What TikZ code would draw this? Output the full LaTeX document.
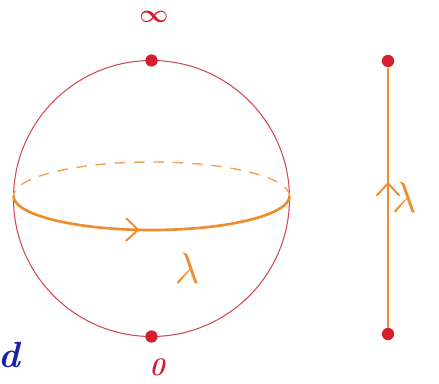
\documentclass[tikz,border=0pt]{standalone}
\usepackage{tikz}
\usetikzlibrary{arrows.meta, positioning, decorations.markings}

\definecolor{ringred}{RGB}{205,75,80}
\definecolor{dotred}{RGB}{215,30,45}
\definecolor{loopor}{RGB}{240,140,45}
\definecolor{inkblue}{RGB}{30,30,170}

\begin{document}
\begin{tikzpicture}[
  x=0.02cm, y=0.02cm,
  dot/.style={circle, fill=dotred, inner sep=0pt, minimum size=7pt},
  sphere/.style={draw=ringred, line width=0.6pt},
  loop/.style={draw=loopor, line width=1.5pt},
  back/.style={draw=loopor!80, line width=0.8pt, dashed, dash pattern=on 6pt off 5pt},
  midarrow/.style={postaction={decorate}, decoration={markings,
      mark=at position #1 with {\arrow[loopor, line width=1.1pt]{Straight Barb[length=7pt, width=13pt]}}}},
  lab/.style={font=\fontsize{34}{36}\selectfont, text=loopor},
]
\useasboundingbox (0,0) rectangle (439,383);

% ---- sphere ----
\draw[sphere] (151.5,184.5) circle (138);
\draw[back] (289.5,187) arc[start angle=0, end angle=180, x radius=138, y radius=34];
\draw[loop, midarrow=0.46] (13.5,187) arc[start angle=180, end angle=360, x radius=138, y radius=34];

\node[dot] (inf)  at (151.5,322.5) {};
\node[dot] (zero) at (151.5,46.5) {};

\node[lab] (lam) at (187,115) {$\lambda$};
\node[text=dotred, font=\Large\boldmath, inner sep=1pt] (inflab) at (154,366) {$\infty$};
\node[text=dotred, font=\Large\bfseries\itshape, inner sep=1pt] (zerolab) at (157,16) {0};

% ---- line ----
\node[dot] (top) at (388,322) {};
\node[dot] (bot) at (388,49) {};
\draw[loop, line width=1.4pt, midarrow=0.56] (bot) -- (top);
\node[lab] (lam2) at (404,186) {$\lambda$};

% ---- margin ----
\node[text=inkblue, font=\huge\bfseries\itshape] (mark) at (9,28) {d};

\end{tikzpicture}
\end{document}
